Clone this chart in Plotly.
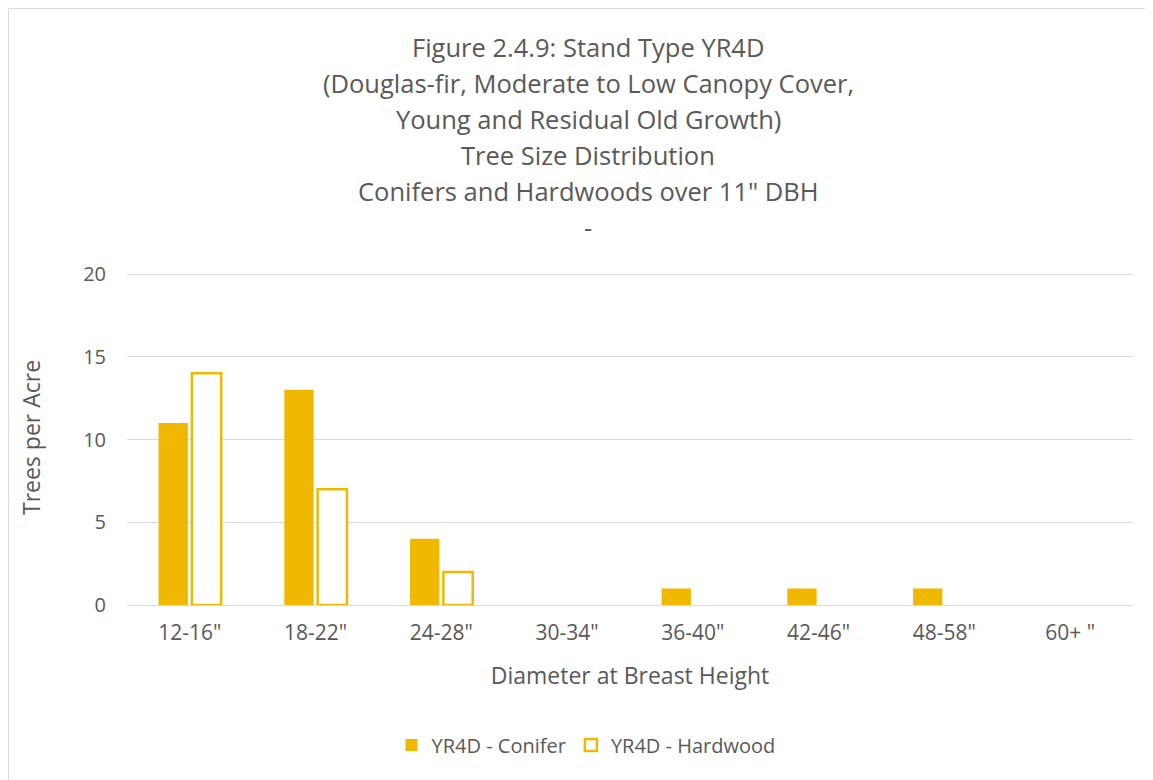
import plotly.graph_objects as go

categories = ['12-16"', '18-22"', '24-28"', '30-34"', '36-40"', '42-46"', '48-58"', '60+ "']
conifer = [11, 13, 4, 0, 1, 1, 1, 0]
hardwood = [14, 7, 2, 0, 0, 0, 0, 0]
y_ticks = [0, 5, 10, 15, 20]
title_lines = [
    "Figure 2.4.9: Stand Type YR4D",
    "(Douglas-fir, Moderate to Low Canopy Cover,",
    "Young and Residual Old Growth)",
    "Tree Size Distribution",
    "Conifers and Hardwoods over 11\" DBH",
    "-",
]

GOLD = "#F0B800"
TXT = "#595959"
GRID = "#D9D9D9"
FONT = "Open Sans"

# page is offset by the 8px body margin; work in page pixel coordinates
OFF = 8
W, H = 1153, 780
PL, PR, PT, PB = 127, 1133, 270, 605  # plot area in page pixels (20 sits at ~274)
L = PL - OFF
T = PT - OFF
R = W - (PR - OFF)
B = H - (PB - OFF)
pw = PR - PL
ph = PB - PT
YMAX = 20 * ph / (PB - 274)

def px_x(p):
    return (p - PL) / pw

def px_y(p):
    return (PB - p) / ph

fig = go.Figure()
fig.add_trace(go.Bar(
    x=categories, y=conifer, name="YR4D - Conifer",
    marker=dict(color=GOLD, line=dict(width=0)),
))
fig.add_trace(go.Bar(
    x=categories, y=[v if v else None for v in hardwood], name="YR4D - Hardwood",
    marker=dict(color="white", line=dict(color=GOLD, width=2.5)),
))

annotations = []
for i, line in enumerate(title_lines):
    annotations.append(dict(
        text=line, xref="paper", yref="paper", x=px_x(588), y=px_y(47 + 36 * i),
        xanchor="center", yanchor="middle", showarrow=False,
        font=dict(family=FONT, size=25.5, color=TXT),
    ))

fig.update_layout(
    width=W, height=H, autosize=False,
    margin=dict(l=L, r=R, t=T, b=B, autoexpand=False),
    paper_bgcolor="white", plot_bgcolor="white",
    barmode="group", bargap=0.47, bargroupgap=0.12,
    font=dict(family=FONT, color=TXT),
    annotations=annotations,
    showlegend=True,
    legend=dict(
        orientation="h", x=px_x(586), xanchor="center",
        y=px_y(745), yanchor="middle",
        font=dict(family=FONT, size=20, color=TXT),
        traceorder="normal",
    ),
    shapes=[dict(
        type="rect", xref="paper", yref="paper",
        x0=px_x(OFF + 0.5), x1=px_x(1170), y0=px_y(OFF + 0.5), y1=px_y(800),
        line=dict(color=GRID, width=1), fillcolor="rgba(0,0,0,0)", layer="below",
    )],
)
fig.update_xaxes(
    showgrid=False, showline=True, linecolor=GRID, linewidth=1,
    ticks="", tickangle=0, tickfont=dict(family=FONT, size=21, color=TXT),
    automargin=False, ticklabelstandoff=9,
    title=dict(text="Diameter at Breast Height", font=dict(family=FONT, size=23, color=TXT), standoff=22),
)
fig.update_yaxes(
    range=[0, YMAX], tickvals=y_ticks, showgrid=True, gridcolor=GRID, gridwidth=1,
    zeroline=False, showline=False, ticks="", automargin=False,
    tickfont=dict(family=FONT, size=20, color=TXT), ticklabelstandoff=20,
    title=dict(text="Trees per Acre", font=dict(family=FONT, size=23, color=TXT), standoff=36),
)

fig.write_html("out.html")
